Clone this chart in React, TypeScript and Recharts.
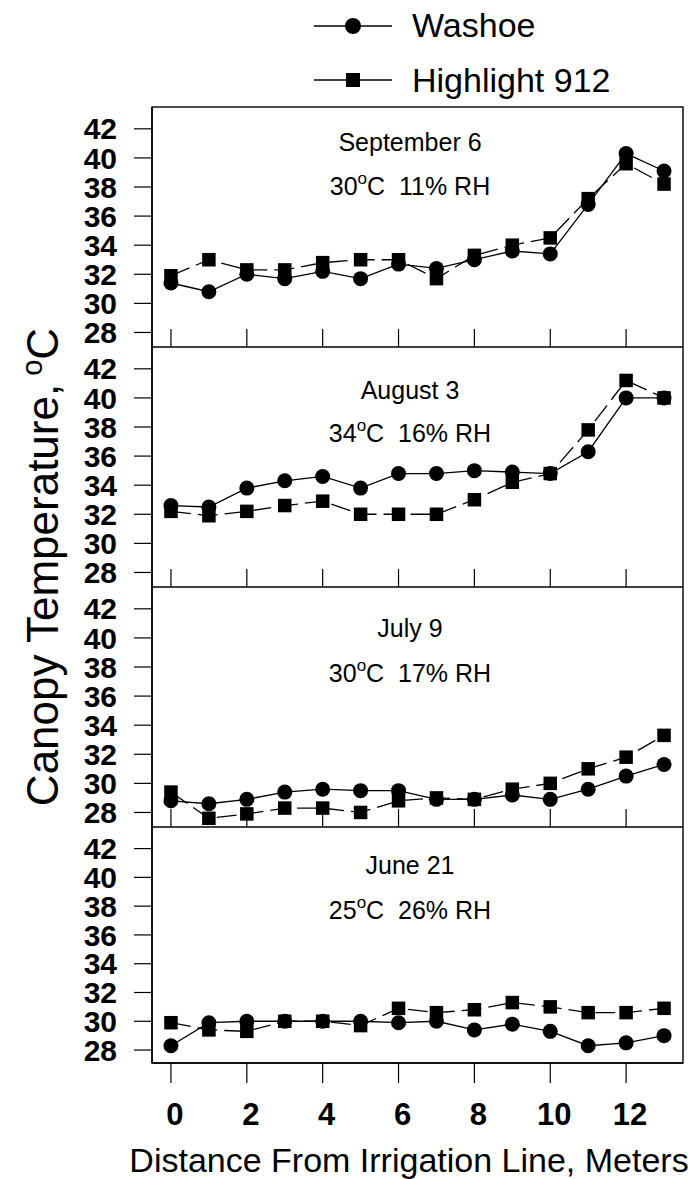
import { LineChart, Line, XAxis, YAxis } from 'recharts';

// distance from irrigation line (m)
const distance = [0, 1, 2, 3, 4, 5, 6, 7, 8, 9, 10, 11, 12, 13];

// canopy temperature (°C)
const sep6Washoe = [31.4, 30.8, 32.0, 31.7, 32.2, 31.7, 32.7, 32.4, 33.0, 33.6, 33.4, 36.8, 40.3, 39.1];
const sep6Highlight = [31.9, 33.0, 32.3, 32.3, 32.8, 33.0, 33.0, 31.7, 33.3, 34.0, 34.5, 37.2, 39.6, 38.2];
const aug3Washoe = [32.6, 32.5, 33.8, 34.3, 34.6, 33.8, 34.8, 34.8, 35.0, 34.9, 34.8, 36.3, 40.0, 40.0];
const aug3Highlight = [32.2, 31.9, 32.2, 32.6, 32.9, 32.0, 32.0, 32.0, 33.0, 34.2, 34.8, 37.8, 41.2, 40.0];
const jul9Washoe = [28.8, 28.6, 28.9, 29.4, 29.6, 29.5, 29.5, 28.9, 28.9, 29.2, 28.9, 29.6, 30.5, 31.3];
const jul9Highlight = [29.4, 27.6, 27.9, 28.3, 28.3, 28.0, 28.8, 29.0, 28.9, 29.6, 30.0, 31.0, 31.8, 33.3];
const jun21Washoe = [28.3, 29.9, 30.0, 30.0, 30.0, 30.0, 29.9, 30.0, 29.4, 29.8, 29.3, 28.3, 28.5, 29.0];
const jun21Highlight = [29.9, 29.4, 29.3, 30.0, 30.0, 29.7, 30.9, 30.6, 30.8, 31.3, 31.0, 30.6, 30.6, 30.9];

const panelDates = ['September 6', 'August 3', 'July 9', 'June 21'];
const panelAirTemp = ['30', '34', '30', '25'];
const panelRH = ['11% RH', '16% RH', '17% RH', '26% RH'];

const xTicks = [0, 2, 4, 6, 8, 10, 12];
const yTicks = [28, 30, 32, 34, 36, 38, 40, 42];

const seriesWashoe = [sep6Washoe, aug3Washoe, jul9Washoe, jun21Washoe];
const seriesHighlight = [sep6Highlight, aug3Highlight, jul9Highlight, jun21Highlight];

const FONT = '"Liberation Sans", Arial, Helvetica, sans-serif';
const PANEL_TOP = [107, 347, 587, 827];
const PANEL_H = [240, 240, 240, 236];
const TITLE_Y1 = [35, 43, 41, 38];
const TITLE_Y2 = [79, 86, 86, 83];

const CircleDot = (props: any) => {
  const { cx, cy, index } = props;
  if (cx == null || cy == null) return null;
  return <circle key={`c-${index}`} cx={cx} cy={cy} r={7.5} fill="#000" />;
};

const SquareDot = (props: any) => {
  const { cx, cy, index } = props;
  if (cx == null || cy == null) return null;
  return <rect key={`s-${index}`} x={cx - 6.75} y={cy - 6.75} width={13.5} height={13.5} fill="#000" />;
};

// upper panels: tick marks only, no labels
const NoLabel = () => <g />;

function Panel({ i }: { i: number }) {
  const last = i === 3;
  const rows = distance.map((d, k) => ({
    x: d,
    washoe: seriesWashoe[i][k],
    highlight: seriesHighlight[i][k],
  }));
  // upper panels get a little room below the plot so the "28" label is not clipped
  const h = PANEL_H[i] + (last ? 116 : 16);
  return (
    <div style={{ position: 'absolute', left: 0, top: PANEL_TOP[i] }}>
      <LineChart
        width={696}
        height={h}
        data={rows}
        margin={{ top: 0, right: 13, bottom: last ? 0 : 16, left: 0 }}
        style={{ overflow: 'visible' }}
      >
        <XAxis
          type="number"
          dataKey="x"
          domain={[-0.5, 13.5]}
          ticks={xTicks}
          interval={0}
          allowDataOverflow
          mirror={!last}
          height={last ? 116 : 30}
          tickSize={last ? 20 : 18}
          tickMargin={20}
          axisLine={{ stroke: '#000', strokeWidth: 1.4 }}
          tickLine={{ stroke: '#000', strokeWidth: 1.2 }}
          tick={last ? { fill: '#000', fontSize: 31, fontWeight: 'bold', fontFamily: FONT, dx: 4 } : NoLabel}
        />
        <YAxis
          type="number"
          domain={last ? [27.1, 43.5] : [27, 43.5]}
          ticks={yTicks}
          interval={0}
          allowDataOverflow
          width={152}
          tickSize={18}
          tickMargin={17}
          axisLine={{ stroke: '#000', strokeWidth: 1.4 }}
          tickLine={{ stroke: '#000', strokeWidth: 1.2 }}
          tick={{ fill: '#000', fontSize: 30, fontWeight: 'bold', fontFamily: FONT }}
        />
        <Line
          dataKey="washoe"
          stroke="#000"
          strokeWidth={1.3}
          dot={CircleDot}
          activeDot={false}
          isAnimationActive={false}
        />
        <Line
          dataKey="highlight"
          stroke="#000"
          strokeWidth={1.3}
          strokeDasharray="20 7"
          dot={SquareDot}
          activeDot={false}
          isAnimationActive={false}
        />
      </LineChart>
    </div>
  );
}

export default function App() {
  return (
    <div style={{ position: 'absolute', left: 0, top: 0, width: 696, height: 1179, background: '#fff' }}>
      {[0, 1, 2, 3].map((i) => (
        <Panel key={i} i={i} />
      ))}
      <svg
        width={696}
        height={1179}
        style={{ position: 'absolute', left: 0, top: 0, pointerEvents: 'none' }}
        fontFamily={FONT}
      >
        {/* frame */}
        <rect x={152} y={107} width={531} height={956} fill="none" stroke="#000" strokeWidth={1.4} />

        {/* legend */}
        <line x1={314} y1={26} x2={392} y2={26} stroke="#000" strokeWidth={1.3} />
        <circle cx={353} cy={26} r={8} fill="#000" />
        <text x={412} y={37} fontSize={34}>Washoe</text>
        <line x1={314} y1={80} x2={392} y2={80} stroke="#000" strokeWidth={1.3} />
        <rect x={346} y={73} width={14} height={14} fill="#000" />
        <text x={412} y={92} fontSize={34}>Highlight 912</text>

        {/* panel annotations */}
        {panelDates.map((d, i) => (
          <g key={d}>
            <text x={410} y={PANEL_TOP[i] + TITLE_Y1[i] + 9} fontSize={25} textAnchor="middle">
              {d}
            </text>
            <text
              x={410}
              y={PANEL_TOP[i] + TITLE_Y2[i] + 9}
              fontSize={25}
              textAnchor="middle"
              style={{ whiteSpace: 'pre' }}
            >
              {panelAirTemp[i]}
              <tspan dy={-11} fontSize={17}>o</tspan>
              <tspan dy={11}>{'C  ' + panelRH[i]}</tspan>
            </text>
          </g>
        ))}

        {/* axis titles */}
        <text transform="translate(58, 567) rotate(-90)" fontSize={44} textAnchor="middle">
          Canopy Temperature,
          <tspan dy={-16} fontSize={29}> o</tspan>
          <tspan dy={16}>C</tspan>
        </text>
        <text x={409} y={1172} fontSize={34} textAnchor="middle">
          Distance From Irrigation Line, Meters
        </text>
      </svg>
    </div>
  );
}
